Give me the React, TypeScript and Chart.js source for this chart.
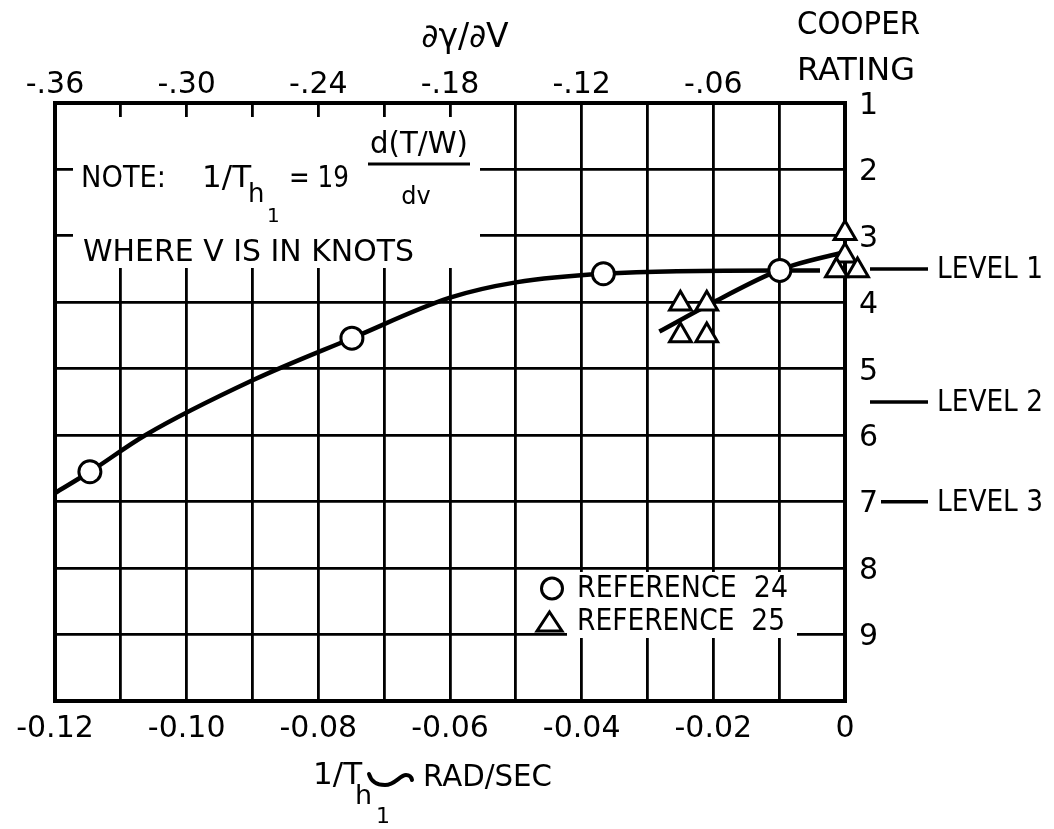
import { useEffect, useRef } from 'react';
import { Chart, registerables } from 'chart.js';

Chart.register(...registerables);

// Pilot (Cooper) rating versus heave damping 1/T_h1, rad/sec
const ref24Damping = [-0.1147, -0.0749, -0.0367, -0.0099];
const ref24Rating = [6.55, 4.54, 3.57, 3.52];

const ref25Damping = [-0.025, -0.021, -0.025, -0.021, 0, 0, -0.0013, 0.0019];
const ref25Rating = [4.02, 4.02, 4.5, 4.5, 2.96, 3.3, 3.52, 3.52];

// faired curves drawn through the test points
const fairing24Damping = [-0.12, -0.1147, -0.1063, -0.0899, -0.0749, -0.06, -0.05, -0.0367, -0.0099, -0.0038];
const fairing24Rating = [6.87, 6.55, 6.0, 5.17, 4.54, 3.93, 3.7, 3.57, 3.52, 3.52];

const fairing25Damping = [-0.0282, -0.0202, -0.0111, -0.0078, -0.0003];
const fairing25Rating = [4.44, 4.01, 3.56, 3.44, 3.25];

// axes
const dampingTicks = [-0.12, -0.11, -0.1, -0.09, -0.08, -0.07, -0.06, -0.05, -0.04, -0.03, -0.02, -0.01, 0];
const dampingTickLabels = ['-0.12', '', '-0.10', '', '-0.08', '', '-0.06', '', '-0.04', '', '-0.02', '', '0'];
const slopeTicks = [-0.36, -0.3, -0.24, -0.18, -0.12, -0.06];
const slopeTickLabels = ['-.36', '-.30', '-.24', '-.18', '-.12', '-.06'];
const ratingTicks = [1, 2, 3, 4, 5, 6, 7, 8, 9, 10];
const ratingTickLabels = ['1', '2', '3', '4', '5', '6', '7', '8', '9', ''];

// handling quality level boundaries on the rating scale
const levelNames = ['LEVEL 1', 'LEVEL 2', 'LEVEL 3'];
const levelRatings = [3.5, 5.5, 7];

const legendLabels = ['REFERENCE  24', 'REFERENCE  25'];

const FONT = '"DejaVu Sans", sans-serif';

function text(
  ctx: CanvasRenderingContext2D,
  s: string,
  x: number,
  y: number,
  size: number,
  align: CanvasTextAlign = 'left',
  maxWidth?: number
) {
  ctx.font = `${size}px ${FONT}`;
  ctx.textAlign = align;
  ctx.textBaseline = 'middle';
  ctx.fillStyle = '#000';
  if (maxWidth) {
    const w = ctx.measureText(s).width;
    if (w > maxWidth) {
      ctx.save();
      const sx = maxWidth / w;
      ctx.translate(x, y);
      ctx.scale(sx, 1);
      ctx.fillText(s, 0, 0);
      ctx.restore();
      return;
    }
  }
  ctx.fillText(s, x, y);
}

const overlayPlugin = {
  id: 'overlay',
  beforeDatasetsDraw(chart: Chart) {
    const ctx = chart.ctx;
    ctx.save();
    ctx.fillStyle = '#fff';
    // note panel and legend panel knock out the grid behind them
    ctx.fillRect(73, 117, 407, 151);
    ctx.fillRect(567, 572, 230, 66);
    ctx.restore();
  },
  afterDraw(chart: Chart) {
    const ctx = chart.ctx;
    const yScale = chart.scales.y;
    ctx.save();

    // top axis title and rating axis title
    text(ctx, '∂γ/∂V', 465, 38, 33, 'center', 96);
    text(ctx, 'COOPER', 797, 26, 32, 'left', 123);
    text(ctx, 'RATING', 797, 72, 32, 'left', 118);

    // note
    text(ctx, 'NOTE:', 81, 179, 31, 'left', 85);
    text(ctx, '1/T', 202, 179, 31, 'left', 58);
    text(ctx, 'h', 248, 195, 26, 'left');
    text(ctx, '1', 267, 217, 20, 'left');
    text(ctx, '= 19', 289, 179, 31, 'left', 60);
    text(ctx, 'd(T/W)', 419, 145, 30, 'center', 98);
    ctx.strokeStyle = '#000';
    ctx.lineWidth = 3;
    ctx.beginPath();
    ctx.moveTo(368, 164);
    ctx.lineTo(470, 164);
    ctx.stroke();
    text(ctx, 'dv', 416, 198, 24, 'center');
    text(ctx, 'WHERE V IS IN KNOTS', 83, 253, 31, 'left', 331);

    // bottom axis title
    text(ctx, '1/T', 313, 776, 31, 'left');
    text(ctx, 'h', 355, 797, 27, 'left');
    text(ctx, '1', 376, 817, 22, 'left');
    ctx.lineWidth = 4;
    ctx.lineCap = 'round';
    ctx.beginPath();
    ctx.moveTo(369, 774);
    ctx.quadraticCurveTo(372, 785, 385, 785);
    ctx.bezierCurveTo(395, 785, 400, 775, 406, 775);
    ctx.quadraticCurveTo(411, 775, 412, 780);
    ctx.stroke();
    text(ctx, 'RAD/SEC', 423, 778, 31, 'left', 129);

    // level boundaries
    levelNames.forEach((name, i) => {
      const y = yScale.getPixelForValue(levelRatings[i]);
      const x0 = i === 2 ? 881 : 870;
      ctx.lineWidth = 3.5;
      ctx.lineCap = 'butt';
      ctx.beginPath();
      ctx.moveTo(x0, y);
      ctx.lineTo(928, y);
      ctx.stroke();
      text(ctx, name, 937, y + 1, 31, 'left', 106);
    });

    // legend
    ctx.lineWidth = 3;
    ctx.beginPath();
    ctx.arc(552, 588.5, 10.5, 0, Math.PI * 2);
    ctx.stroke();
    ctx.beginPath();
    ctx.moveTo(549.5, 612);
    ctx.lineTo(562, 631);
    ctx.lineTo(537, 631);
    ctx.closePath();
    ctx.stroke();
    text(ctx, legendLabels[0], 577, 589, 31, 'left', 211);
    text(ctx, legendLabels[1], 577, 622, 31, 'left', 208);

    ctx.restore();
  },
};

const tickFont = { family: FONT, size: 30 };

export default function App() {
  const ref = useRef<HTMLCanvasElement | null>(null);

  useEffect(() => {
    const canvas = ref.current;
    if (!canvas) return;
    Chart.defaults.font.family = FONT;

    const pts = (xs: number[], ys: number[]) => xs.map((x, i) => ({ x, y: ys[i] }));

    const chart = new Chart(canvas, {
      type: 'scatter',
      data: {
        datasets: [
          {
            label: legendLabels[0],
            data: pts(ref24Damping, ref24Rating),
            pointStyle: 'circle',
            pointRadius: 11,
            pointBorderWidth: 3,
            pointBackgroundColor: '#fff',
            pointBorderColor: '#000',
            showLine: false,
            clip: false,
          },
          {
            label: legendLabels[1],
            data: pts(ref25Damping, ref25Rating),
            pointStyle: 'triangle',
            pointRadius: 12.5,
            pointBorderWidth: 3,
            pointBackgroundColor: '#fff',
            pointBorderColor: '#000',
            showLine: false,
            clip: false,
          },
          {
            label: 'fairing 24',
            data: pts(fairing24Damping, fairing24Rating),
            showLine: true,
            borderColor: '#000',
            borderWidth: 4.5,
            pointRadius: 0,
            cubicInterpolationMode: 'monotone',
            clip: false,
          },
          {
            label: 'fairing 25',
            data: pts(fairing25Damping, fairing25Rating),
            showLine: true,
            borderColor: '#000',
            borderWidth: 4.5,
            pointRadius: 0,
            cubicInterpolationMode: 'monotone',
            clip: false,
          },
        ],
      },
      options: {
        responsive: false,
        devicePixelRatio: 1,
        animation: false,
        events: [],
        layout: { padding: { left: 55, top: 0, right: 0, bottom: 0 } },
        plugins: { legend: { display: false }, tooltip: { enabled: false } },
        scales: {
          x: {
            type: 'linear',
            position: 'bottom',
            min: -0.12,
            max: 0,
            afterBuildTicks: (s: any) => {
              s.ticks = dampingTicks.map((v) => ({ value: v }));
            },
            afterFit: (s: any) => {
              s.height = 128;
            },
            ticks: {
              autoSkip: false,
              maxRotation: 0,
              minRotation: 0,
              padding: 10,
              color: '#000',
              font: tickFont,
              callback: (_v: any, i: number) => dampingTickLabels[i],
            },
            grid: {
              color: '#000',
              drawTicks: false,
              lineWidth: (c: any) => (c.index === 0 || c.index === dampingTicks.length - 1 ? 4 : 2.8),
            },
            border: { display: true, color: '#000', width: 4 },
          },
          x2: {
            type: 'linear',
            position: 'top',
            display: true,
            min: -0.36,
            max: 0,
            afterBuildTicks: (s: any) => {
              s.ticks = slopeTicks.map((v) => ({ value: v }));
            },
            afterFit: (s: any) => {
              s.height = 103;
            },
            ticks: {
              autoSkip: false,
              maxRotation: 0,
              minRotation: 0,
              padding: 0,
              color: '#000',
              font: tickFont,
              callback: (_v: any, i: number) => slopeTickLabels[i],
            },
            grid: { display: false, drawTicks: false },
            border: { display: true, color: '#000', width: 4 },
          },
          y: {
            type: 'linear',
            position: 'right',
            reverse: true,
            min: 1,
            max: 10,
            afterBuildTicks: (s: any) => {
              s.ticks = ratingTicks.map((v) => ({ value: v }));
            },
            afterFit: (s: any) => {
              s.width = 209;
            },
            ticks: {
              autoSkip: false,
              padding: 14,
              labelOffset: 3,
              color: '#000',
              font: tickFont,
              callback: (_v: any, i: number) => ratingTickLabels[i],
            },
            grid: {
              color: '#000',
              drawTicks: false,
              lineWidth: (c: any) => (c.index === 0 || c.index === ratingTicks.length - 1 ? 4 : 2.8),
            },
            border: { display: true, color: '#000', width: 4 },
          },
        },
      } as any,
      plugins: [overlayPlugin as any],
    });

    return () => chart.destroy();
  }, []);

  return (
    <div style={{ position: 'fixed', left: 0, top: 0, width: 1054, height: 829, background: '#fff' }}>
      <canvas ref={ref} width={1054} height={829} style={{ display: 'block', width: 1054, height: 829 }} />
    </div>
  );
}
